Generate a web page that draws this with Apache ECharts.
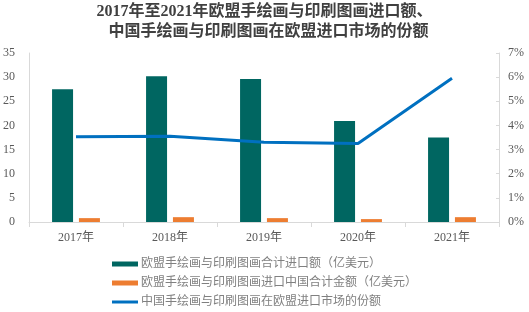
<!DOCTYPE html>
<html><head><meta charset="utf-8">
<script src="https://cdn.jsdelivr.net/npm/echarts@6/dist/echarts.min.js"></script>
<style>html,body{margin:0;padding:0;background:#fff}#c{width:529px;height:312px}</style>
</head><body><div id="c"></div>
<script>
const categories = ['2017年','2018年','2019年','2020年','2021年'];
const euImports = [27.5, 30.2, 29.6, 20.9, 17.5];
const chinaImports = [0.8, 1.0, 0.8, 0.6, 1.0];
const chinaShare = [3.53, 3.55, 3.30, 3.25, 5.95];
const leftTicks = [0, 35, 5];
const rightTicks = [0, 7, 1];
const names = ['欧盟手绘画与印刷图画合计进口额（亿美元）','欧盟手绘画与印刷图画进口中国合计金额（亿美元）','中国手绘画与印刷图画在欧盟进口市场的份额'];
const colors = ['#006661','#ED7D31','#0070C0'];
const serif = '"Liberation Serif","Noto Sans CJK SC",serif';
const cjk = '"Liberation Serif","Noto Sans CJK SC",sans-serif';
const axisText = {color:'#595959', fontSize:12, fontFamily: serif};
const chart = echarts.init(document.getElementById('c'));
function leg(i, top, h){
  return {show:true, data:[{name:names[i], icon:'rect'}], left:112, top:top, orient:'vertical',
    itemWidth:26, itemHeight:h, itemGap:0, padding:0,
    textStyle:{color:'#808080', fontSize:12, fontFamily:cjk, padding:[0,0,0,-2]}};
}
chart.setOption({
  animation:false,
  title:{text:'2017年至2021年欧盟手绘画与印刷图画进口额、\n  中国手绘画与印刷图画在欧盟进口市场的份额', left:'center', top:-3,
    textStyle:{fontSize:16, fontWeight:'bold', color:'#404040', fontFamily:serif, lineHeight:20}},
  legend:[leg(0,258,5), leg(1,277,5), leg(2,296,3)],
  grid:{left:27, right:30, top:53, bottom:90},
  xAxis:{type:'category', data:categories,
    axisLine:{lineStyle:{color:'#d9d9d9'}}, axisTick:{show:true, lineStyle:{color:'#d9d9d9'}},
    axisLabel:Object.assign({margin:10}, axisText)},
  yAxis:[
    {type:'value', min:leftTicks[0], max:leftTicks[1], interval:leftTicks[2],
     splitLine:{show:false}, axisLine:{show:true, lineStyle:{color:'#d9d9d9'}},
     axisTick:{show:false}, axisLabel:Object.assign({margin:14}, axisText)},
    {type:'value', min:rightTicks[0], max:rightTicks[1], interval:rightTicks[2],
     splitLine:{show:false}, axisLine:{show:true, lineStyle:{color:'#d9d9d9'}},
     axisTick:{show:true, inside:true, length:3, lineStyle:{color:'#d9d9d9'}},
     axisLabel:Object.assign({margin:9, formatter:v=>v+'%'}, axisText)}
  ],
  series:[
    {name:names[0], type:'bar', data:euImports, barWidth:21, barGap:'28%', itemStyle:{color:colors[0]}},
    {name:names[1], type:'bar', data:chinaImports, barWidth:21, itemStyle:{color:colors[1]}},
    {name:names[2], type:'line', yAxisIndex:1, data:chinaShare, symbol:'none', lineStyle:{width:3, color:colors[2]}, itemStyle:{color:colors[2]}}
  ]
});
</script></body></html>
